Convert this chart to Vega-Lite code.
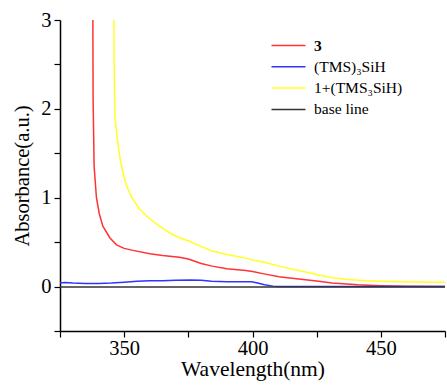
{
  "$schema": "https://vega.github.io/schema/vega-lite/v6.json",
  "width": 385,
  "height": 311,
  "autosize": {"type": "none"},
  "padding": {"left": 60, "top": 20, "right": 2, "bottom": 54},
  "background": "white",
  "config": {
    "view": {"stroke": null},
    "font": "Liberation Serif, Times New Roman, serif",
    "style": {"guide-label": {"font": "Liberation Serif"}, "guide-title": {"font": "Liberation Serif"}},
    "legend": {"labelFont": "Liberation Serif, Times New Roman, serif"},
    "axis": {"grid": false, "domainColor": "#000", "domainWidth": 1.5, "tickColor": "#000", "tickWidth": 1.2, "tickSize": 6, "labelColor": "#000", "titleColor": "#000", "labelFontSize": 20.5, "titleFontWeight": "normal"}
  },
  "data": {"values": [
    {"wl": 337.8, "abs": 3.0, "s": "3"},
    {"wl": 337.9, "abs": 2.1, "s": "3"},
    {"wl": 338.3, "abs": 1.35, "s": "3"},
    {"wl": 339.2, "abs": 1.0, "s": "3"},
    {"wl": 340.3, "abs": 0.82, "s": "3"},
    {"wl": 341.7, "abs": 0.68, "s": "3"},
    {"wl": 344.4, "abs": 0.55, "s": "3"},
    {"wl": 347, "abs": 0.47, "s": "3"},
    {"wl": 350, "abs": 0.43, "s": "3"},
    {"wl": 353, "abs": 0.41, "s": "3"},
    {"wl": 360, "abs": 0.37, "s": "3"},
    {"wl": 365, "abs": 0.35, "s": "3"},
    {"wl": 371.5, "abs": 0.33, "s": "3"},
    {"wl": 375, "abs": 0.31, "s": "3"},
    {"wl": 380, "abs": 0.26, "s": "3"},
    {"wl": 384.3, "abs": 0.23, "s": "3"},
    {"wl": 390, "abs": 0.2, "s": "3"},
    {"wl": 397.4, "abs": 0.18, "s": "3"},
    {"wl": 400, "abs": 0.17, "s": "3"},
    {"wl": 405, "abs": 0.14, "s": "3"},
    {"wl": 410.3, "abs": 0.11, "s": "3"},
    {"wl": 418, "abs": 0.085, "s": "3"},
    {"wl": 425.8, "abs": 0.06, "s": "3"},
    {"wl": 431, "abs": 0.04, "s": "3"},
    {"wl": 441, "abs": 0.02, "s": "3"},
    {"wl": 450, "abs": 0.01, "s": "3"},
    {"wl": 460, "abs": 0.005, "s": "3"},
    {"wl": 475, "abs": 0.0, "s": "3"},
    {"wl": 325, "abs": 0.04, "s": "(TMS)₃SiH"},
    {"wl": 327, "abs": 0.045, "s": "(TMS)₃SiH"},
    {"wl": 330, "abs": 0.04, "s": "(TMS)₃SiH"},
    {"wl": 335, "abs": 0.035, "s": "(TMS)₃SiH"},
    {"wl": 340, "abs": 0.035, "s": "(TMS)₃SiH"},
    {"wl": 345, "abs": 0.04, "s": "(TMS)₃SiH"},
    {"wl": 350, "abs": 0.05, "s": "(TMS)₃SiH"},
    {"wl": 355, "abs": 0.06, "s": "(TMS)₃SiH"},
    {"wl": 360, "abs": 0.065, "s": "(TMS)₃SiH"},
    {"wl": 365, "abs": 0.065, "s": "(TMS)₃SiH"},
    {"wl": 370, "abs": 0.07, "s": "(TMS)₃SiH"},
    {"wl": 376, "abs": 0.075, "s": "(TMS)₃SiH"},
    {"wl": 380, "abs": 0.07, "s": "(TMS)₃SiH"},
    {"wl": 384, "abs": 0.06, "s": "(TMS)₃SiH"},
    {"wl": 390, "abs": 0.055, "s": "(TMS)₃SiH"},
    {"wl": 399.6, "abs": 0.055, "s": "(TMS)₃SiH"},
    {"wl": 402, "abs": 0.04, "s": "(TMS)₃SiH"},
    {"wl": 404.7, "abs": 0.02, "s": "(TMS)₃SiH"},
    {"wl": 408, "abs": 0.005, "s": "(TMS)₃SiH"},
    {"wl": 410, "abs": 0.0, "s": "(TMS)₃SiH"},
    {"wl": 440, "abs": 0.0, "s": "(TMS)₃SiH"},
    {"wl": 475, "abs": 0.0, "s": "(TMS)₃SiH"},
    {"wl": 346.0, "abs": 3.0, "s": "1+(TMS₃SiH)"},
    {"wl": 346.1, "abs": 2.5, "s": "1+(TMS₃SiH)"},
    {"wl": 346.4, "abs": 1.9, "s": "1+(TMS₃SiH)"},
    {"wl": 347.6, "abs": 1.6, "s": "1+(TMS₃SiH)"},
    {"wl": 348.5, "abs": 1.42, "s": "1+(TMS₃SiH)"},
    {"wl": 349.8, "abs": 1.25, "s": "1+(TMS₃SiH)"},
    {"wl": 351, "abs": 1.13, "s": "1+(TMS₃SiH)"},
    {"wl": 353, "abs": 1.0, "s": "1+(TMS₃SiH)"},
    {"wl": 356, "abs": 0.87, "s": "1+(TMS₃SiH)"},
    {"wl": 360, "abs": 0.76, "s": "1+(TMS₃SiH)"},
    {"wl": 363.8, "abs": 0.68, "s": "1+(TMS₃SiH)"},
    {"wl": 368, "abs": 0.6, "s": "1+(TMS₃SiH)"},
    {"wl": 371.5, "abs": 0.55, "s": "1+(TMS₃SiH)"},
    {"wl": 375.4, "abs": 0.51, "s": "1+(TMS₃SiH)"},
    {"wl": 380, "abs": 0.45, "s": "1+(TMS₃SiH)"},
    {"wl": 384.3, "abs": 0.4, "s": "1+(TMS₃SiH)"},
    {"wl": 390, "abs": 0.36, "s": "1+(TMS₃SiH)"},
    {"wl": 397.4, "abs": 0.32, "s": "1+(TMS₃SiH)"},
    {"wl": 400, "abs": 0.3, "s": "1+(TMS₃SiH)"},
    {"wl": 405, "abs": 0.27, "s": "1+(TMS₃SiH)"},
    {"wl": 410.3, "abs": 0.23, "s": "1+(TMS₃SiH)"},
    {"wl": 418, "abs": 0.18, "s": "1+(TMS₃SiH)"},
    {"wl": 425.8, "abs": 0.13, "s": "1+(TMS₃SiH)"},
    {"wl": 431, "abs": 0.1, "s": "1+(TMS₃SiH)"},
    {"wl": 437, "abs": 0.08, "s": "1+(TMS₃SiH)"},
    {"wl": 444, "abs": 0.065, "s": "1+(TMS₃SiH)"},
    {"wl": 457, "abs": 0.055, "s": "1+(TMS₃SiH)"},
    {"wl": 475, "abs": 0.05, "s": "1+(TMS₃SiH)"},
    {"wl": 325, "abs": -0.005, "s": "base line"},
    {"wl": 475, "abs": -0.005, "s": "base line"}
  ]},
  "mark": {"type": "line", "strokeWidth": 1.5, "clip": true},
  "encoding": {
    "x": {"field": "wl", "type": "quantitative", "scale": {"domain": [325, 475], "nice": false, "zero": false},
      "axis": {"title": "Wavelength(nm)", "labelFont": "Liberation Serif", "titleFont": "Liberation Serif", "titleFontSize": 21.5, "values": [325, 350, 375, 400, 425, 450, 475], "labelExpr": "datum.value % 50 === 0 ? format(datum.value, 'd') : ''", "labelPadding": 1, "titlePadding": 0}},
    "y": {"field": "abs", "type": "quantitative", "scale": {"domain": [-0.5, 3], "nice": false, "zero": false},
      "axis": {"title": "Absorbance(a.u.)", "labelFont": "Liberation Serif", "titleFont": "Liberation Serif", "titleFontSize": 20.5, "values": [-0.5, 0, 0.5, 1, 1.5, 2, 2.5, 3], "labelExpr": "datum.value % 1 === 0 ? format(datum.value, 'd') : ''", "labelPadding": 3, "titlePadding": 8}},
    "color": {"field": "s", "type": "nominal",
      "scale": {"domain": ["3", "(TMS)₃SiH", "1+(TMS₃SiH)", "base line"], "range": ["#ff3333", "#3333ff", "#ffff22", "#333333"]},
      "legend": {"orient": "none", "legendX": 219, "legendY": 16, "title": null, "symbolType": "M-2,0H2", "symbolSize": 289, "symbolStrokeWidth": 1.5, "labelFontSize": 15.5, "labelColor": "#000", "labelOffset": 16, "rowPadding": 3.3, "padding": 0,
        "encode": {"labels": {"update": {"fontWeight": {"signal": "datum.label === '3' ? 'bold' : 'normal'"}}}}}
    },
    "order": {"field": "s"}
  }
}
